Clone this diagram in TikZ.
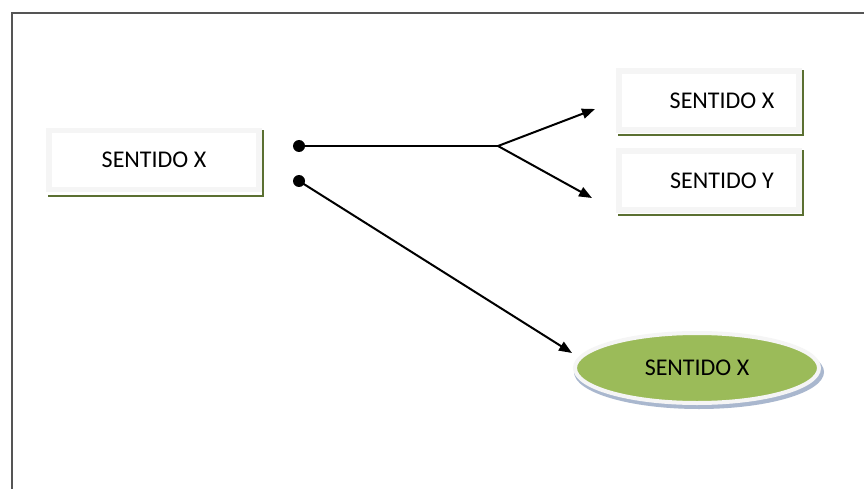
\documentclass[tikz,border=0pt]{standalone}
\usepackage{fontspec}
\setmainfont{Carlito}
\usetikzlibrary{arrows.meta,shapes.geometric}
\definecolor{olivesh}{HTML}{5B7032}
\definecolor{ellgreen}{HTML}{9BBB59}
\definecolor{ellshadow}{HTML}{A9B7CE}
\definecolor{framegray}{HTML}{555555}
\tikzset{
  boxnode/.style={draw=black!4, line width=5.5pt, fill=white, minimum width=#1, minimum height=59pt, inner sep=0pt, font=\fontsize{24}{27}\selectfont},
  boxshadow/.style={draw=olivesh, line width=2.5pt},
  dotnode/.style={circle, fill=black, inner sep=0pt, minimum size=12pt},
  conn/.style={draw=black, line width=2pt},
  arr/.style={conn, -{Triangle[length=13pt,width=10pt]}},
}
\begin{document}
\begin{tikzpicture}[x=1pt,y=-1pt]
\useasboundingbox (0,0) rectangle (864,489);
\fill[white] (0,0) rectangle (864,489);
% frame
\draw[framegray, line width=2.5pt] (12,492) -- (12,13) -- (868,13);
% left box
\draw[boxshadow] (48,196) -- (263,196) -- (263,130);
\node[boxnode=210pt] (src) at (154,160) {SENTIDO X};
% right boxes
\draw[boxshadow] (618,135) -- (803,135) -- (803,70);
\node[boxnode=180pt] (bx) at (709,100.5) {\hspace*{26pt}SENTIDO X};
\draw[boxshadow] (618,215) -- (803,215) -- (803,150);
\node[boxnode=180pt] (by) at (709,180.5) {\hspace*{26pt}SENTIDO Y};
% ellipse
\fill[ellshadow] (699,372) ellipse [x radius=125pt, y radius=37pt];
\node[ellipse, draw=black!4, line width=4pt, fill=ellgreen, minimum width=244pt, minimum height=70pt, inner sep=0pt, font=\fontsize{24}{27}\selectfont] (ell) at (697,368) {SENTIDO X};
% dots and connectors
\node[dotnode] (d1) at (299,146) {};
\node[dotnode] (d2) at (299,181) {};
\coordinate (j) at (498,146);
\coordinate (t1) at (595,109);
\coordinate (t2) at (592,198);
\coordinate (t3) at (572,353);
\draw[conn] (d1.center) -- (j);
\draw[arr] (j) -- (t1);
\draw[arr] (j) -- (t2);
\draw[arr] (d2.center) -- (t3);
\end{tikzpicture}
\end{document}
